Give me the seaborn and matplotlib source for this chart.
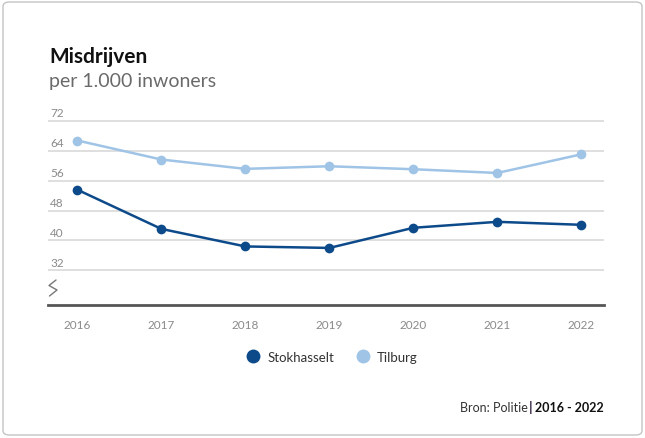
import pandas as pd
import matplotlib
matplotlib.use("Agg")
import matplotlib.pyplot as plt
import seaborn as sns
from matplotlib.lines import Line2D
from matplotlib.patches import FancyBboxPatch
import matplotlib.transforms as mtransforms

jaren = [2016, 2017, 2018, 2019, 2020, 2021, 2022]
stokhasselt = [53.6, 43.1, 38.4, 38.0, 43.4, 45.0, 44.2]
tilburg = [66.8, 61.7, 59.2, 59.9, 59.1, 58.1, 63.1]
y_ticks = [32, 40, 48, 56, 64, 72]
kleuren = {"Stokhasselt": "#0d4a8a", "Tilburg": "#9fc4e6"}

sns.set_style("white")
plt.rcParams["font.family"] = ["Lato", "DejaVu Sans"]

df = pd.DataFrame({"Jaar": jaren, "Stokhasselt": stokhasselt, "Tilburg": tilburg})
df = df.melt("Jaar", var_name="Plaats", value_name="Misdrijven")

fig = plt.figure(figsize=(6.45, 4.39), dpi=100)
ax = fig.add_axes([48 / 645, 1 - 306 / 439, 556 / 645, 185 / 439])

sns.lineplot(data=df, x="Jaar", y="Misdrijven", hue="Plaats", palette=kleuren,
             marker="o", markersize=7, markeredgewidth=0, linewidth=1.8,
             legend=False, ax=ax)

ax.set_xlim(2015.65, 2022.27)
ax.set_ylim(22.7, 72.3)
ax.set_xticks(jaren)
ax.set_xticklabels([str(j) for j in jaren], color="#8a8a8a", fontsize=8.5)
ax.tick_params(axis="x", length=0, pad=10)
ax.set_yticks(y_ticks)
ax.set_yticklabels([])
ax.tick_params(axis="y", length=0)
ax.yaxis.grid(True, color="#dcdcdc", linewidth=1.3)
ax.set_xlabel("")
ax.set_ylabel("")
for s in ["top", "right", "left"]:
    ax.spines[s].set_visible(False)
ax.spines["bottom"].set_color("#555555")
ax.spines["bottom"].set_linewidth(2)

# y labels above the gridlines
trans = mtransforms.blended_transform_factory(ax.transAxes, ax.transData)
for t in y_ticks:
    ax.text(0.004, t + 2.2, str(t), transform=trans, ha="left", va="center",
            color="#8a8a8a", fontsize=8.5)

# axis break sign
zz_x = [(p - 48) / 556 for p in [56, 49, 57, 49.5]]
zz_y = [(306 - p) / 185 for p in [281, 286.5, 291, 297]]
ax.plot(zz_x, zz_y, transform=ax.transAxes, color="#777777", lw=1, clip_on=False)

# titles
fig.text(49 / 645, 1 - 63 / 439, "Misdrijven", fontsize=15, fontweight="bold",
         color="#111111", va="baseline")
fig.text(49 / 645, 1 - 87 / 439, "per 1.000 inwoners", fontsize=14,
         color="#6a6a6a", va="baseline")

# legend
handles = [Line2D([], [], marker="o", linestyle="", markersize=10,
                  markerfacecolor=c, markeredgewidth=0, label=n)
           for n, c in kleuren.items()]
fig.legend(handles=handles, loc="center", bbox_to_anchor=(0.51, 1 - 358 / 439),
           ncol=2, frameon=False, fontsize=9.5, handletextpad=0.05,
           columnspacing=1.2, labelcolor="#333333")

# source
fig.canvas.draw()
r = fig.canvas.get_renderer()
yb = 1 - 412 / 439
t1 = fig.text(604 / 645, yb, "2016 - 2022", fontsize=9, fontweight="bold",
              color="#111111", ha="right", va="baseline")
x0 = t1.get_window_extent(r).x0
t2 = fig.text((x0 - 3) / 645, yb, "|", fontsize=10, fontweight="bold",
              color="#3a2a4a", ha="right", va="baseline")
x1 = t2.get_window_extent(r).x0
fig.text((x1 - 1) / 645, yb, "Bron: Politie", fontsize=9, color="#333333",
         ha="right", va="baseline")

# frame around the graphic
fig.add_artist(FancyBboxPatch((3 / 645, 3 / 439), 639 / 645, 433 / 439,
                              boxstyle="round,pad=0,rounding_size=0.01",
                              transform=fig.transFigure, facecolor="none",
                              edgecolor="#c4c4c4", linewidth=1))

fig.savefig("out.png", dpi=100)
